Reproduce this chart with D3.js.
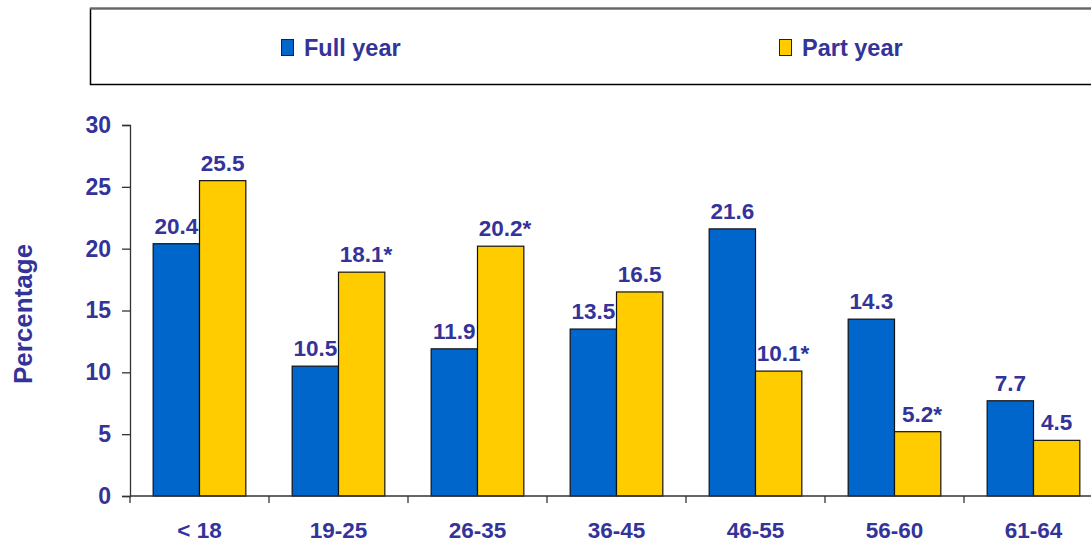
<!DOCTYPE html>
<html>
<head>
<meta charset="utf-8">
<script src="https://cdn.jsdelivr.net/npm/d3@7"></script>
<style>
  body { margin: 0; background: #fff; }
  svg { display: block; font-family: "Liberation Sans", Arial, sans-serif; font-weight: bold; }
</style>
</head>
<body>
<svg id="chart" width="1091" height="542"></svg>
<script>
// age groups and the two series
const ageGroups = ["< 18", "19-25", "26-35", "36-45", "46-55", "56-60", "61-64"];
const fullYear = [20.4, 10.5, 11.9, 13.5, 21.6, 14.3, 7.7];
const partYear = [25.5, 18.1, 20.2, 16.5, 10.1, 5.2, 4.5];
// which values carry an asterisk in the original
const fullStar = [false, false, false, false, false, false, false];
const partStar = [false, true, true, false, true, true, false];
const yTicks = [0, 5, 10, 15, 20, 25, 30];

const seriesNames = ["Full year", "Part year"];
const colors = ["#0066cc", "#ffcc00"];
const textColor = "#333399";

const width = 1091, height = 542;
const margin = { top: 125, bottom: 46, left: 130 };
const step = 139;

const svg = d3.select("#chart");

const x = d3.scaleBand()
    .domain(ageGroups)
    .range([margin.left, margin.left + step * ageGroups.length])
    .padding(0);

const x1 = d3.scaleBand()
    .domain(seriesNames)
    .range([0, x.bandwidth()])
    .paddingInner(0)
    .paddingOuter(0.5);

const y = d3.scaleLinear()
    .domain([0, 30])
    .range([height - margin.bottom, margin.top]);

// legend box
svg.append("rect")
    .attr("x", 90.5).attr("y", 8.5)
    .attr("width", 1100).attr("height", 76)
    .attr("fill", "#fff")
    .attr("stroke", "#000")
    .attr("stroke-width", 1.5);
svg.append("line")
    .attr("x1", 90).attr("x2", 1091)
    .attr("y1", 8.5).attr("y2", 8.5)
    .attr("stroke", "#666").attr("stroke-width", 2);

const legendX = [281, 779];
seriesNames.forEach((name, i) => {
    svg.append("rect")
        .attr("x", legendX[i] + 0.5).attr("y", 39.5)
        .attr("width", 12).attr("height", 16)
        .attr("fill", colors[i])
        .attr("stroke", "#222").attr("stroke-width", 1);
    svg.append("text")
        .attr("x", legendX[i] + 23).attr("y", 56)
        .attr("fill", textColor)
        .attr("font-size", 23.5)
        .text(name);
});

const data = ageGroups.map((g, i) => ({
    group: g,
    values: [
        { name: seriesNames[0], value: fullYear[i], star: fullStar[i], color: colors[0] },
        { name: seriesNames[1], value: partYear[i], star: partStar[i], color: colors[1] }
    ]
}));

const groups = svg.append("g")
    .selectAll("g")
    .data(data)
    .join("g")
    .attr("transform", d => `translate(${x(d.group)},0)`);

groups.selectAll("rect")
    .data(d => d.values)
    .join("rect")
    .attr("x", d => x1(d.name))
    .attr("y", d => y(d.value))
    .attr("width", x1.bandwidth())
    .attr("height", d => y(0) - y(d.value))
    .attr("fill", d => d.color)
    .attr("stroke", "#111")
    .attr("stroke-width", 1.2);

// value labels; asterisk hangs off the centred number
groups.selectAll("text.val")
    .data(d => d.values)
    .join("text")
    .attr("class", "val")
    .attr("x", d => x1(d.name) + x1.bandwidth() / 2)
    .attr("y", d => y(d.value) - 10)
    .attr("text-anchor", "middle")
    .attr("fill", textColor)
    .attr("font-size", 22.5)
    .text(d => d.value.toFixed(1))
    .each(function(d) {
        if (!d.star) return;
        const w = this.getComputedTextLength();
        d3.select(this.parentNode).append("text")
            .attr("x", x1(d.name) + x1.bandwidth() / 2 + w / 2)
            .attr("y", y(d.value) - 10)
            .attr("fill", textColor)
            .attr("font-size", 22.5)
            .text("*");
    });

// y axis
const yAxis = svg.append("g")
    .attr("transform", `translate(${margin.left},0)`)
    .call(d3.axisLeft(y).tickValues(yTicks).tickSize(8).tickPadding(11));
yAxis.select(".domain").attr("stroke", "#333").attr("stroke-width", 1.3);
yAxis.selectAll(".tick line").attr("stroke", "#333").attr("stroke-width", 1.3);
yAxis.selectAll(".tick text")
    .attr("fill", textColor)
    .attr("font-size", 23)
    .attr("font-family", "Liberation Sans, Arial, sans-serif")
    .attr("font-weight", "bold");

// x axis line and boundary ticks
svg.append("line")
    .attr("x1", margin.left).attr("x2", width)
    .attr("y1", y(0)).attr("y2", y(0))
    .attr("stroke", "#333").attr("stroke-width", 1.3);
svg.append("g")
    .selectAll("line")
    .data(ageGroups)
    .join("line")
    .attr("x1", d => x(d)).attr("x2", d => x(d))
    .attr("y1", y(0)).attr("y2", y(0) + 7)
    .attr("stroke", "#333").attr("stroke-width", 1.3);

svg.append("g")
    .selectAll("text")
    .data(ageGroups)
    .join("text")
    .attr("x", d => x(d) + x.bandwidth() / 2)
    .attr("y", 538)
    .attr("text-anchor", "middle")
    .attr("fill", textColor)
    .attr("font-size", 22.5)
    .text(d => d);

// axis title
svg.append("text")
    .attr("transform", "translate(32,314) rotate(-90)")
    .attr("text-anchor", "middle")
    .attr("fill", textColor)
    .attr("font-size", 26)
    .text("Percentage");
</script>
</body>
</html>
